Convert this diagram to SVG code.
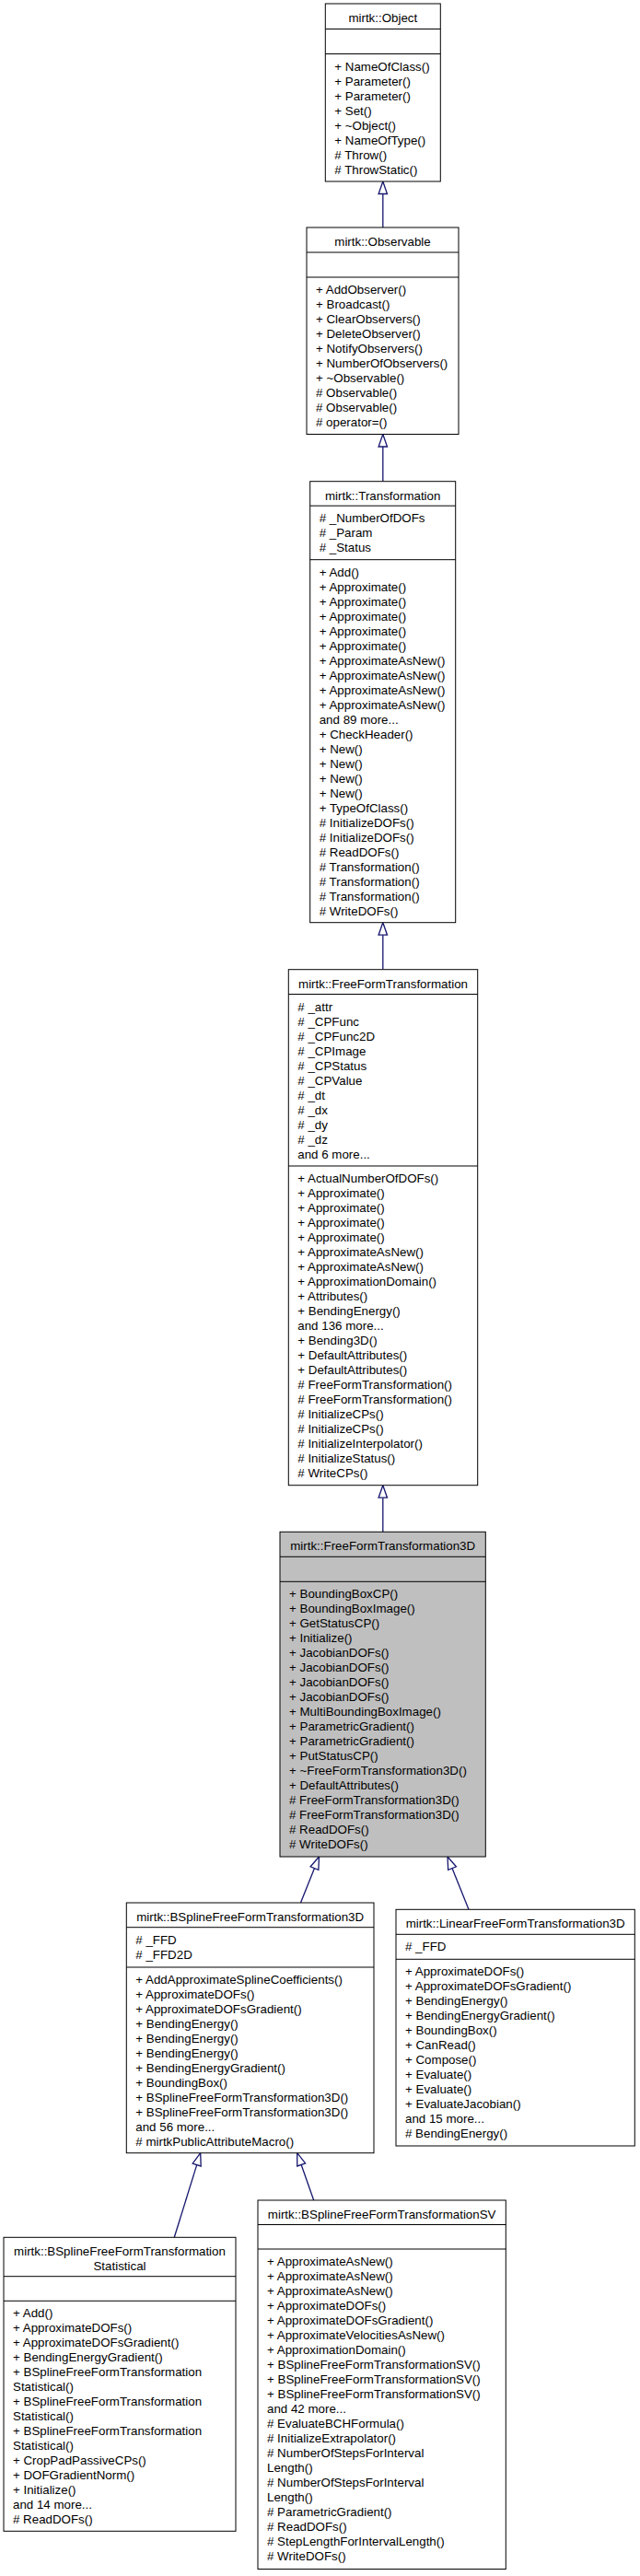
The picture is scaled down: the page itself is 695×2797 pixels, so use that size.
<svg xmlns="http://www.w3.org/2000/svg" width="695" height="2797" viewBox="0 0 695 2797">
<style>
  text { font-family: "Liberation Sans", Arial, sans-serif; font-size: 13.33px; fill: #000; }
  .t { text-anchor: middle; }
  .box { fill: #ffffff; stroke: #000000; stroke-width: 1; }
  .cur { fill: #bfbfbf; stroke: #000000; stroke-width: 1; }
  .sep { stroke: #000000; stroke-width: 1; fill: none; }
  .edge { stroke: #191970; stroke-width: 1.33; fill: none; }
  .head { stroke: #191970; stroke-width: 1.33; fill: #ffffff; }
</style>
<rect width="695" height="2797" fill="#ffffff"/>

<g id="edges">
  <line class="edge" x1="415.8" y1="247" x2="415.8" y2="210.5"/>
  <polygon class="head" points="415.8,197 420.5,210.5 411.1,210.5"/>
  <line class="edge" x1="415.8" y1="522.7" x2="415.8" y2="485"/>
  <polygon class="head" points="415.8,471.5 420.5,485 411.1,485"/>
  <line class="edge" x1="415.8" y1="1052.7" x2="415.8" y2="1015.2"/>
  <polygon class="head" points="415.8,1001.7 420.5,1015.2 411.1,1015.2"/>
  <line class="edge" x1="415.8" y1="1663.3" x2="415.8" y2="1626.2"/>
  <polygon class="head" points="415.8,1612.7 420.5,1626.2 411.1,1626.2"/>
  <line class="edge" x1="326.5" y1="2066" x2="341.49" y2="2028.53"/>
  <polygon class="head" points="346.5,2016 345.85,2030.28 337.13,2026.79"/>
  <line class="edge" x1="509" y1="2073.3" x2="491.03" y2="2028.53"/>
  <polygon class="head" points="486,2016 495.39,2026.78 486.67,2030.28"/>
  <line class="edge" x1="189.3" y1="2429.3" x2="213.7" y2="2350.59"/>
  <polygon class="head" points="217.7,2337.7 218.19,2351.98 209.21,2349.2"/>
  <line class="edge" x1="340.7" y1="2389" x2="327.17" y2="2350.44"/>
  <polygon class="head" points="322.7,2337.7 331.61,2348.88 322.74,2352"/>
</g>

<g id="node-Object">
  <rect class="box" x="353.3" y="4" width="125" height="193"/>
  <line class="sep" x1="353.3" y1="31.5" x2="478.3" y2="31.5"/>
  <line class="sep" x1="353.3" y1="58.5" x2="478.3" y2="58.5"/>
  <text class="t" x="415.8" y="24">mirtk::Object</text>
  <text x="363.3" y="76.5">+ NameOfClass()</text>
  <text x="363.3" y="92.5">+ Parameter()</text>
  <text x="363.3" y="108.5">+ Parameter()</text>
  <text x="363.3" y="124.5">+ Set()</text>
  <text x="363.3" y="140.5">+ ~Object()</text>
  <text x="363.3" y="156.5">+ NameOfType()</text>
  <text x="363.3" y="172.5"># Throw()</text>
  <text x="363.3" y="188.5"># ThrowStatic()</text>
</g>

<g id="node-Observable">
  <rect class="box" x="333" y="247" width="165" height="224.5"/>
  <line class="sep" x1="333" y1="274" x2="498" y2="274"/>
  <line class="sep" x1="333" y1="301" x2="498" y2="301"/>
  <text class="t" x="415.5" y="267">mirtk::Observable</text>
  <text x="343" y="319">+ AddObserver()</text>
  <text x="343" y="335">+ Broadcast()</text>
  <text x="343" y="351">+ ClearObservers()</text>
  <text x="343" y="367">+ DeleteObserver()</text>
  <text x="343" y="383">+ NotifyObservers()</text>
  <text x="343" y="399">+ NumberOfObservers()</text>
  <text x="343" y="415">+ ~Observable()</text>
  <text x="343" y="431"># Observable()</text>
  <text x="343" y="447"># Observable()</text>
  <text x="343" y="463"># operator=()</text>
</g>

<g id="node-Transformation">
  <rect class="box" x="336.7" y="522.7" width="158" height="479"/>
  <line class="sep" x1="336.7" y1="549.2" x2="494.7" y2="549.2"/>
  <line class="sep" x1="336.7" y1="607.7" x2="494.7" y2="607.7"/>
  <text class="t" x="415.7" y="542.7">mirtk::Transformation</text>
  <text x="346.7" y="567.2"># _NumberOfDOFs</text>
  <text x="346.7" y="583.2"># _Param</text>
  <text x="346.7" y="599.2"># _Status</text>
  <text x="346.7" y="625.7">+ Add()</text>
  <text x="346.7" y="641.7">+ Approximate()</text>
  <text x="346.7" y="657.7">+ Approximate()</text>
  <text x="346.7" y="673.7">+ Approximate()</text>
  <text x="346.7" y="689.7">+ Approximate()</text>
  <text x="346.7" y="705.7">+ Approximate()</text>
  <text x="346.7" y="721.7">+ ApproximateAsNew()</text>
  <text x="346.7" y="737.7">+ ApproximateAsNew()</text>
  <text x="346.7" y="753.7">+ ApproximateAsNew()</text>
  <text x="346.7" y="769.7">+ ApproximateAsNew()</text>
  <text x="346.7" y="785.7">and 89 more...</text>
  <text x="346.7" y="801.7">+ CheckHeader()</text>
  <text x="346.7" y="817.7">+ New()</text>
  <text x="346.7" y="833.7">+ New()</text>
  <text x="346.7" y="849.7">+ New()</text>
  <text x="346.7" y="865.7">+ New()</text>
  <text x="346.7" y="881.7">+ TypeOfClass()</text>
  <text x="346.7" y="897.7"># InitializeDOFs()</text>
  <text x="346.7" y="913.7"># InitializeDOFs()</text>
  <text x="346.7" y="929.7"># ReadDOFs()</text>
  <text x="346.7" y="945.7"># Transformation()</text>
  <text x="346.7" y="961.7"># Transformation()</text>
  <text x="346.7" y="977.7"># Transformation()</text>
  <text x="346.7" y="993.7"># WriteDOFs()</text>
</g>

<g id="node-FreeFormTransformation">
  <rect class="box" x="313.3" y="1052.7" width="205.4" height="560"/>
  <line class="sep" x1="313.3" y1="1079.5" x2="518.7" y2="1079.5"/>
  <line class="sep" x1="313.3" y1="1266" x2="518.7" y2="1266"/>
  <text class="t" x="416" y="1072.7">mirtk::FreeFormTransformation</text>
  <text x="323.3" y="1097.5"># _attr</text>
  <text x="323.3" y="1113.5"># _CPFunc</text>
  <text x="323.3" y="1129.5"># _CPFunc2D</text>
  <text x="323.3" y="1145.5"># _CPImage</text>
  <text x="323.3" y="1161.5"># _CPStatus</text>
  <text x="323.3" y="1177.5"># _CPValue</text>
  <text x="323.3" y="1193.5"># _dt</text>
  <text x="323.3" y="1209.5"># _dx</text>
  <text x="323.3" y="1225.5"># _dy</text>
  <text x="323.3" y="1241.5"># _dz</text>
  <text x="323.3" y="1257.5">and 6 more...</text>
  <text x="323.3" y="1284">+ ActualNumberOfDOFs()</text>
  <text x="323.3" y="1300">+ Approximate()</text>
  <text x="323.3" y="1316">+ Approximate()</text>
  <text x="323.3" y="1332">+ Approximate()</text>
  <text x="323.3" y="1348">+ Approximate()</text>
  <text x="323.3" y="1364">+ ApproximateAsNew()</text>
  <text x="323.3" y="1380">+ ApproximateAsNew()</text>
  <text x="323.3" y="1396">+ ApproximationDomain()</text>
  <text x="323.3" y="1412">+ Attributes()</text>
  <text x="323.3" y="1428">+ BendingEnergy()</text>
  <text x="323.3" y="1444">and 136 more...</text>
  <text x="323.3" y="1460">+ Bending3D()</text>
  <text x="323.3" y="1476">+ DefaultAttributes()</text>
  <text x="323.3" y="1492">+ DefaultAttributes()</text>
  <text x="323.3" y="1508"># FreeFormTransformation()</text>
  <text x="323.3" y="1524"># FreeFormTransformation()</text>
  <text x="323.3" y="1540"># InitializeCPs()</text>
  <text x="323.3" y="1556"># InitializeCPs()</text>
  <text x="323.3" y="1572"># InitializeInterpolator()</text>
  <text x="323.3" y="1588"># InitializeStatus()</text>
  <text x="323.3" y="1604"># WriteCPs()</text>
</g>

<g id="node-FreeFormTransformation3D">
  <rect class="cur" x="304" y="1663.3" width="223.3" height="352.7"/>
  <line class="sep" x1="304" y1="1690.3" x2="527.3" y2="1690.3"/>
  <line class="sep" x1="304" y1="1717.3" x2="527.3" y2="1717.3"/>
  <text class="t" x="415.7" y="1683.3">mirtk::FreeFormTransformation3D</text>
  <text x="314" y="1735.3">+ BoundingBoxCP()</text>
  <text x="314" y="1751.3">+ BoundingBoxImage()</text>
  <text x="314" y="1767.3">+ GetStatusCP()</text>
  <text x="314" y="1783.3">+ Initialize()</text>
  <text x="314" y="1799.3">+ JacobianDOFs()</text>
  <text x="314" y="1815.3">+ JacobianDOFs()</text>
  <text x="314" y="1831.3">+ JacobianDOFs()</text>
  <text x="314" y="1847.3">+ JacobianDOFs()</text>
  <text x="314" y="1863.3">+ MultiBoundingBoxImage()</text>
  <text x="314" y="1879.3">+ ParametricGradient()</text>
  <text x="314" y="1895.3">+ ParametricGradient()</text>
  <text x="314" y="1911.3">+ PutStatusCP()</text>
  <text x="314" y="1927.3">+ ~FreeFormTransformation3D()</text>
  <text x="314" y="1943.3">+ DefaultAttributes()</text>
  <text x="314" y="1959.3"># FreeFormTransformation3D()</text>
  <text x="314" y="1975.3"># FreeFormTransformation3D()</text>
  <text x="314" y="1991.3"># ReadDOFs()</text>
  <text x="314" y="2007.3"># WriteDOFs()</text>
</g>

<g id="node-BSplineFreeFormTransformation3D">
  <rect class="box" x="137.3" y="2066" width="268.7" height="271.7"/>
  <line class="sep" x1="137.3" y1="2092.7" x2="406" y2="2092.7"/>
  <line class="sep" x1="137.3" y1="2136" x2="406" y2="2136"/>
  <text class="t" x="271.65" y="2086">mirtk::BSplineFreeFormTransformation3D</text>
  <text x="147.3" y="2110.7"># _FFD</text>
  <text x="147.3" y="2126.7"># _FFD2D</text>
  <text x="147.3" y="2154">+ AddApproximateSplineCoefficients()</text>
  <text x="147.3" y="2170">+ ApproximateDOFs()</text>
  <text x="147.3" y="2186">+ ApproximateDOFsGradient()</text>
  <text x="147.3" y="2202">+ BendingEnergy()</text>
  <text x="147.3" y="2218">+ BendingEnergy()</text>
  <text x="147.3" y="2234">+ BendingEnergy()</text>
  <text x="147.3" y="2250">+ BendingEnergyGradient()</text>
  <text x="147.3" y="2266">+ BoundingBox()</text>
  <text x="147.3" y="2282">+ BSplineFreeFormTransformation3D()</text>
  <text x="147.3" y="2298">+ BSplineFreeFormTransformation3D()</text>
  <text x="147.3" y="2314">and 56 more...</text>
  <text x="147.3" y="2330"># mirtkPublicAttributeMacro()</text>
</g>

<g id="node-LinearFreeFormTransformation3D">
  <rect class="box" x="430" y="2073.3" width="259.3" height="256.7"/>
  <line class="sep" x1="430" y1="2100.3" x2="689.3" y2="2100.3"/>
  <line class="sep" x1="430" y1="2127.3" x2="689.3" y2="2127.3"/>
  <text class="t" x="559.65" y="2093.3">mirtk::LinearFreeFormTransformation3D</text>
  <text x="440" y="2118.3"># _FFD</text>
  <text x="440" y="2145.3">+ ApproximateDOFs()</text>
  <text x="440" y="2161.3">+ ApproximateDOFsGradient()</text>
  <text x="440" y="2177.3">+ BendingEnergy()</text>
  <text x="440" y="2193.3">+ BendingEnergyGradient()</text>
  <text x="440" y="2209.3">+ BoundingBox()</text>
  <text x="440" y="2225.3">+ CanRead()</text>
  <text x="440" y="2241.3">+ Compose()</text>
  <text x="440" y="2257.3">+ Evaluate()</text>
  <text x="440" y="2273.3">+ Evaluate()</text>
  <text x="440" y="2289.3">+ EvaluateJacobian()</text>
  <text x="440" y="2305.3">and 15 more...</text>
  <text x="440" y="2321.3"># BendingEnergy()</text>
</g>

<g id="node-BSplineFreeFormTransformationStatistical">
  <rect class="box" x="4" y="2429.3" width="252" height="319"/>
  <line class="sep" x1="4" y1="2471.7" x2="256" y2="2471.7"/>
  <line class="sep" x1="4" y1="2498.3" x2="256" y2="2498.3"/>
  <text class="t" x="130" y="2449.3">mirtk::BSplineFreeFormTransformation</text>
  <text class="t" x="130" y="2465.3">Statistical</text>
  <text x="14" y="2516.3">+ Add()</text>
  <text x="14" y="2532.3">+ ApproximateDOFs()</text>
  <text x="14" y="2548.3">+ ApproximateDOFsGradient()</text>
  <text x="14" y="2564.3">+ BendingEnergyGradient()</text>
  <text x="14" y="2580.3">+ BSplineFreeFormTransformation</text>
  <text x="14" y="2596.3">Statistical()</text>
  <text x="14" y="2612.3">+ BSplineFreeFormTransformation</text>
  <text x="14" y="2628.3">Statistical()</text>
  <text x="14" y="2644.3">+ BSplineFreeFormTransformation</text>
  <text x="14" y="2660.3">Statistical()</text>
  <text x="14" y="2676.3">+ CropPadPassiveCPs()</text>
  <text x="14" y="2692.3">+ DOFGradientNorm()</text>
  <text x="14" y="2708.3">+ Initialize()</text>
  <text x="14" y="2724.3">and 14 more...</text>
  <text x="14" y="2740.3"># ReadDOFs()</text>
</g>

<g id="node-BSplineFreeFormTransformationSV">
  <rect class="box" x="280" y="2389" width="269.3" height="400.5"/>
  <line class="sep" x1="280" y1="2415.5" x2="549.3" y2="2415.5"/>
  <line class="sep" x1="280" y1="2442" x2="549.3" y2="2442"/>
  <text class="t" x="414.65" y="2409">mirtk::BSplineFreeFormTransformationSV</text>
  <text x="290" y="2460">+ ApproximateAsNew()</text>
  <text x="290" y="2476">+ ApproximateAsNew()</text>
  <text x="290" y="2492">+ ApproximateAsNew()</text>
  <text x="290" y="2508">+ ApproximateDOFs()</text>
  <text x="290" y="2524">+ ApproximateDOFsGradient()</text>
  <text x="290" y="2540">+ ApproximateVelocitiesAsNew()</text>
  <text x="290" y="2556">+ ApproximationDomain()</text>
  <text x="290" y="2572">+ BSplineFreeFormTransformationSV()</text>
  <text x="290" y="2588">+ BSplineFreeFormTransformationSV()</text>
  <text x="290" y="2604">+ BSplineFreeFormTransformationSV()</text>
  <text x="290" y="2620">and 42 more...</text>
  <text x="290" y="2636"># EvaluateBCHFormula()</text>
  <text x="290" y="2652"># InitializeExtrapolator()</text>
  <text x="290" y="2668"># NumberOfStepsForInterval</text>
  <text x="290" y="2684">Length()</text>
  <text x="290" y="2700"># NumberOfStepsForInterval</text>
  <text x="290" y="2716">Length()</text>
  <text x="290" y="2732"># ParametricGradient()</text>
  <text x="290" y="2748"># ReadDOFs()</text>
  <text x="290" y="2764"># StepLengthForIntervalLength()</text>
  <text x="290" y="2780"># WriteDOFs()</text>
</g>
</svg>
